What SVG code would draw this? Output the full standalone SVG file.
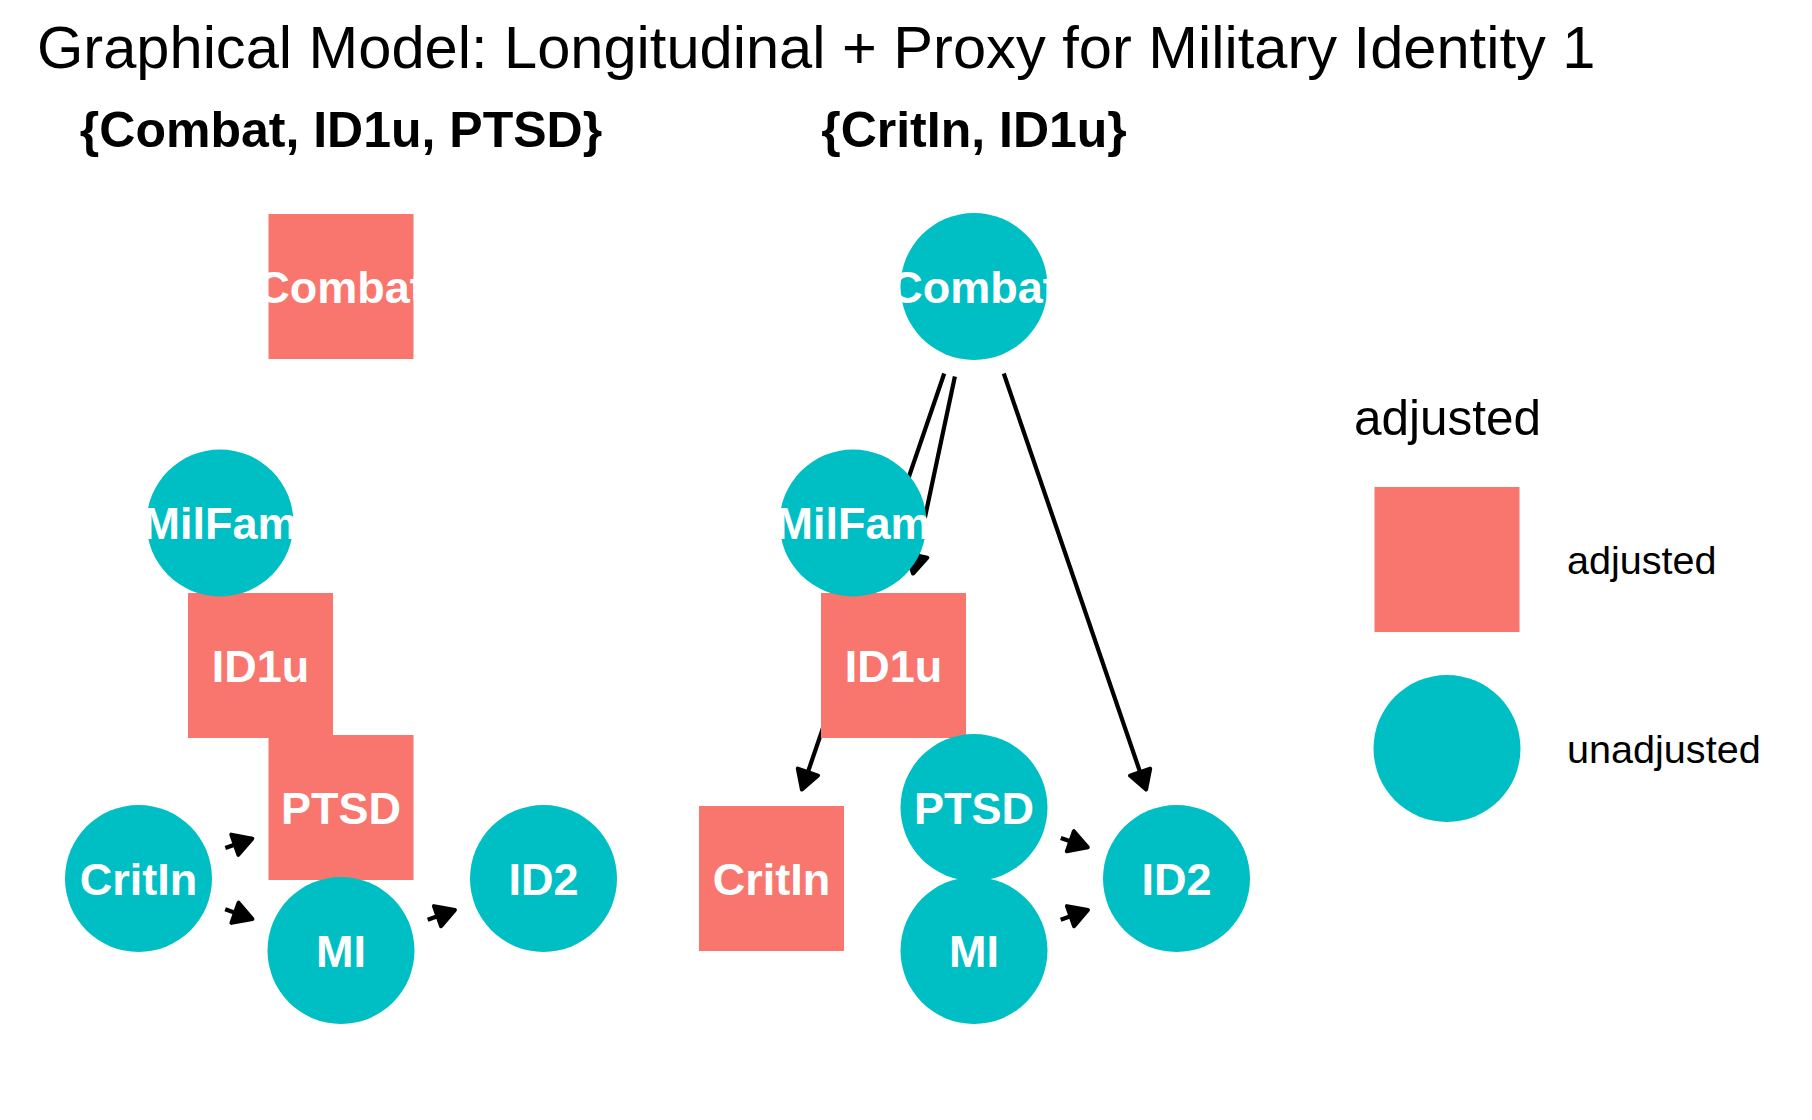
<svg xmlns="http://www.w3.org/2000/svg" width="1812" height="1120" viewBox="0 0 1812 1120">
<style>
.adj{fill:#F8766D}
.un{fill:#00BFC4}
.lbl{font-family:"Liberation Sans",Arial,Helvetica,sans-serif;font-weight:bold;font-size:45px;fill:#fff;text-anchor:middle}
.title{font-family:"Liberation Sans",Arial,Helvetica,sans-serif;font-size:59.6px;fill:#000}
.sub{font-family:"Liberation Sans",Arial,Helvetica,sans-serif;font-weight:bold;font-size:50px;fill:#000;text-anchor:middle}
.legt{font-family:"Liberation Sans",Arial,Helvetica,sans-serif;font-size:49.5px;fill:#000}
.legl{font-family:"Liberation Sans",Arial,Helvetica,sans-serif;font-size:39.6px;fill:#000}
.edge{stroke:#000;stroke-width:4.2;fill:none;marker-end:url(#ah)}
</style>
<defs>
<marker id="ah" markerUnits="userSpaceOnUse" markerWidth="40" markerHeight="40" refX="0" refY="0" orient="auto" overflow="visible">
<path d="M0,0 L-18.5,-10.7 L-18.5,10.7 Z" fill="#000" stroke="#000" stroke-width="4" stroke-linejoin="round"/>
</marker>
</defs>
<rect width="1812" height="1120" fill="#fff"/>
<text class="title" x="37" y="68">Graphical Model: Longitudinal + Proxy for Military Identity 1</text>
<text class="sub" x="341" y="147">{Combat, ID1u, PTSD}</text>
<text class="sub" x="974" y="147">{CritIn, ID1u}</text>

<g id="edges">
<line class="edge" x1="225.32" y1="848.06" x2="252.29" y2="838.60"/>
<line class="edge" x1="225.18" y1="909.32" x2="252.43" y2="919.01"/>
<line class="edge" x1="427.68" y1="919.68" x2="454.93" y2="909.99"/>
<line class="edge" x1="954.89" y1="376.49" x2="913.03" y2="573.55"/>
<line class="edge" x1="944.22" y1="373.55" x2="801.92" y2="789.56"/>
<line class="edge" x1="1003.78" y1="373.55" x2="1146.08" y2="789.56"/>
<line class="edge" x1="1060.82" y1="837.94" x2="1087.79" y2="847.40"/>
<line class="edge" x1="1060.68" y1="919.68" x2="1087.93" y2="909.99"/>
</g>

<g id="L-Combat"><rect class="adj" x="268.5" y="214" width="145" height="145"/><text class="lbl" x="341" y="302.5">Combat</text></g>
<g id="L-ID1u"><rect class="adj" x="188" y="593" width="145" height="145"/><text class="lbl" x="260.5" y="681.5">ID1u</text></g>
<g id="L-MilFam"><circle class="un" cx="220" cy="523" r="73.5"/><text class="lbl" x="220" y="539">MilFam</text></g>
<g id="L-PTSD"><rect class="adj" x="268.5" y="735" width="145" height="145"/><text class="lbl" x="341" y="823.5">PTSD</text></g>
<g id="L-CritIn"><circle class="un" cx="138.5" cy="878.5" r="73.5"/><text class="lbl" x="138.5" y="894.5">CritIn</text></g>
<g id="L-MI"><circle class="un" cx="341" cy="950.5" r="73.5"/><text class="lbl" x="341" y="966.5">MI</text></g>
<g id="L-ID2"><circle class="un" cx="543.5" cy="878.5" r="73.5"/><text class="lbl" x="543.5" y="894.5">ID2</text></g>

<g id="R-Combat"><circle class="un" cx="974" cy="286.5" r="73.5"/><text class="lbl" x="974" y="302.5">Combat</text></g>
<g id="R-ID1u"><rect class="adj" x="821" y="593" width="145" height="145"/><text class="lbl" x="893.5" y="681.5">ID1u</text></g>
<g id="R-MilFam"><circle class="un" cx="853" cy="523" r="73.5"/><text class="lbl" x="853" y="539">MilFam</text></g>
<g id="R-CritIn"><rect class="adj" x="699" y="806" width="145" height="145"/><text class="lbl" x="771.5" y="894.5">CritIn</text></g>
<g id="R-PTSD"><circle class="un" cx="974" cy="807.5" r="73.5"/><text class="lbl" x="974" y="823.5">PTSD</text></g>
<g id="R-MI"><circle class="un" cx="974" cy="950.5" r="73.5"/><text class="lbl" x="974" y="966.5">MI</text></g>
<g id="R-ID2"><circle class="un" cx="1176.5" cy="878.5" r="73.5"/><text class="lbl" x="1176.5" y="894.5">ID2</text></g>

<g id="legend">
<text class="legt" x="1354" y="435">adjusted</text>
<rect class="adj" x="1374.5" y="487" width="145" height="145"/>
<text class="legl" x="1567" y="574">adjusted</text>
<circle class="un" cx="1447" cy="748.5" r="73.5"/>
<text class="legl" x="1567" y="763">unadjusted</text>
</g>
</svg>
